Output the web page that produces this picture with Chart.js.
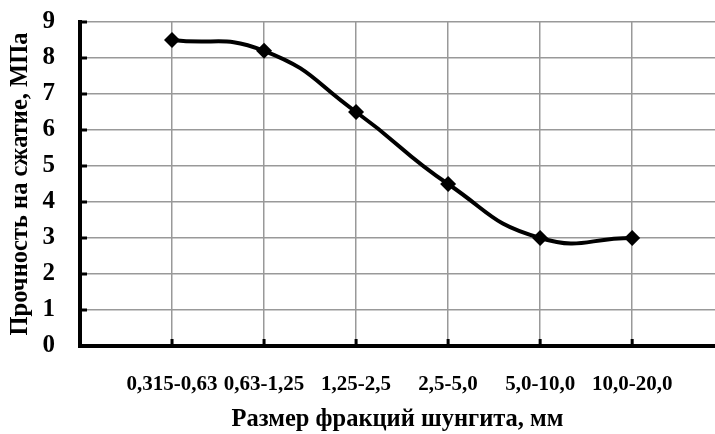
<!DOCTYPE html>
<html>
<head>
<meta charset="utf-8">
<script src="https://cdn.jsdelivr.net/npm/chart.js@4/dist/chart.umd.min.js"></script>
<style>
  html, body { margin: 0; padding: 0; background: #fff; }
  #myChart { display: block; }
</style>
</head>
<body>
<canvas id="myChart" width="715" height="434"></canvas>
<script>
const categories = ["0,315-0,63", "0,63-1,25", "1,25-2,5", "2,5-5,0", "5,0-10,0", "10,0-20,0"];
const strength = [8.5, 8.2, 6.5, 4.5, 3.0, 3.0];
const yTicks = [0, 1, 2, 3, 4, 5, 6, 7, 8, 9];

const serif = "'Liberation Serif', 'Times New Roman', serif";

// short black tick marks drawn inside the plot, like Excel
const innerTicks = {
    id: "innerTicks",
    afterDatasetsDraw(chart) {
        const ctx = chart.ctx;
        const xs = chart.scales.x;
        const ys = chart.scales.y;
        const area = chart.chartArea;
        ctx.save();
        ctx.strokeStyle = "#000";
        ctx.lineWidth = 3;
        ctx.beginPath();
        yTicks.forEach(v => {
            const py = ys.getPixelForValue(v);
            ctx.moveTo(area.left, py);
            ctx.lineTo(area.left + 7, py);
        });
        categories.forEach((c, i) => {
            const px = xs.getPixelForValue(i + 1);
            ctx.moveTo(px, area.bottom);
            ctx.lineTo(px, area.bottom - 7);
        });
        ctx.stroke();
        ctx.restore();
    }
};

window.onload = () => {
    const data = {
        datasets: [
            {
                data: strength.map((v, i) => ({ x: i + 1, y: v })),
                borderColor: "#000",
                backgroundColor: "#000",
                borderWidth: 4,
                tension: 0.5,
                pointStyle: "rectRot",
                pointRadius: 8,
                pointHoverRadius: 8,
                pointBackgroundColor: "#000",
                pointBorderColor: "#000",
                pointBorderWidth: 0,
            },
        ],
    };

    const config = {
        type: "line",
        data: data,
        options: {
            responsive: false,
            animation: false,
            layout: { autoPadding: false, padding: { top: 22, right: 0, left: 0, bottom: 0 } },
            plugins: {
                legend: { display: false },
                tooltip: { enabled: false },
            },
            scales: {
                x: {
                    type: "linear",
                    min: 0,
                    max: 6.9,
                    afterBuildTicks: (s) => {
                        s.ticks = s.ticks.filter(t => t.value <= categories.length);
                    },
                    afterFit: (s) => { s.height = 88; },
                    border: { color: "#000", width: 4 },
                    grid: {
                        color: (c) => (c.tick && c.tick.value === 0 ? "rgba(0,0,0,0)" : "#999"),
                        lineWidth: 1.5,
                        drawTicks: true,
                        tickLength: 26,
                        tickColor: "rgba(0,0,0,0)",
                    },
                    ticks: {
                        stepSize: 1,
                        includeBounds: false,
                        autoSkip: false,
                        maxRotation: 0,
                        padding: 0,
                        color: "#000",
                        font: { family: serif, size: 21, weight: "bold" },
                        callback: (v) => categories[v - 1] || "",
                    },
                    title: {
                        display: true,
                        text: "Размер фракций шунгита, мм",
                        color: "#000",
                        font: { family: serif, size: 24.5, weight: "bold" },
                        padding: { top: 0, bottom: 0 },
                    },
                },
                y: {
                    min: 0,
                    max: 9,
                    afterFit: (s) => { s.width = 80; },
                    border: { color: "#000", width: 4 },
                    grid: {
                        color: (c) => (c.tick && c.tick.value === 0 ? "rgba(0,0,0,0)" : "#999"),
                        lineWidth: 1.5,
                        drawTicks: true,
                        tickLength: 25,
                        tickColor: "rgba(0,0,0,0)",
                    },
                    ticks: {
                        stepSize: 1,
                        padding: 0,
                        color: "#000",
                        font: { family: serif, size: 25, weight: "bold" },
                        callback: (v) => (yTicks.includes(v) ? String(v) : ""),
                    },
                    title: {
                        display: true,
                        text: "Прочность на сжатие, МПа",
                        color: "#000",
                        font: { family: serif, size: 24.5, weight: "bold" },
                        padding: { top: 6, bottom: 0 },
                    },
                },
            },
        },
        plugins: [innerTicks],
    };

    const myChart = new Chart(document.getElementById("myChart"), config);
};
</script>
</body>
</html>
